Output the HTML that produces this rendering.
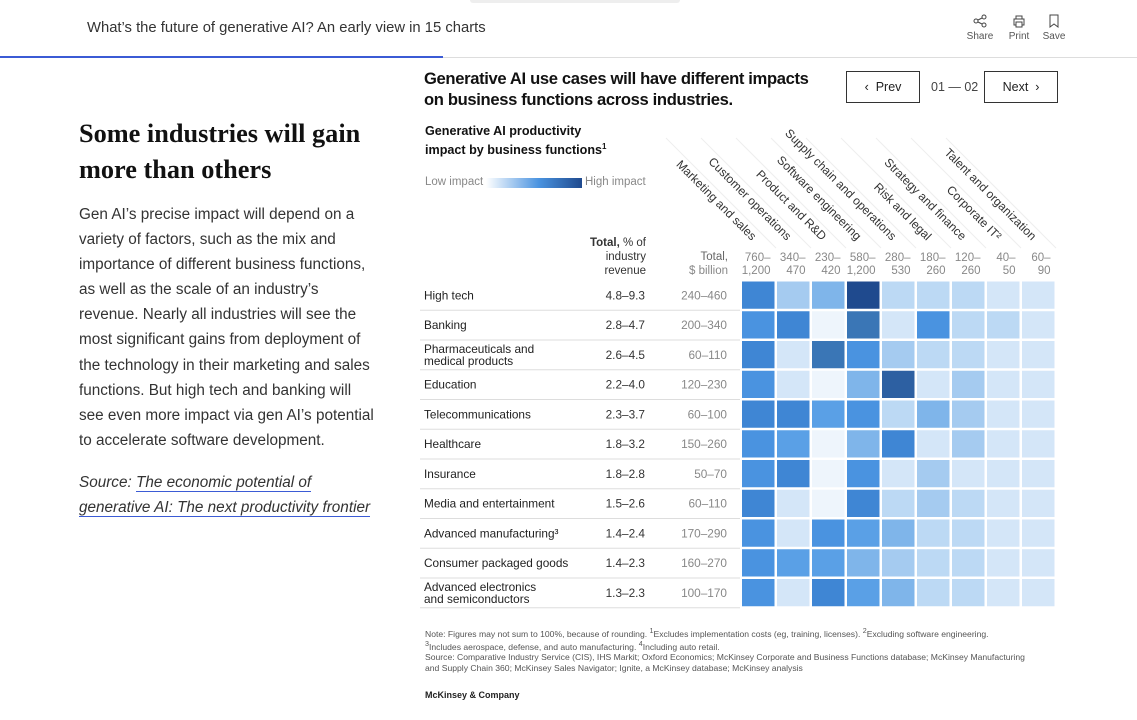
<!DOCTYPE html>
<html><head><meta charset="utf-8">
<style>
*{margin:0;padding:0;box-sizing:border-box}
body{width:1137px;height:720px;background:#fff;font-family:"Liberation Sans",sans-serif;color:#222;position:relative;overflow:hidden}
.a{position:absolute;white-space:nowrap}
.btn{position:absolute;border:1px solid #333;height:32px;font-size:12.5px;display:flex;align-items:center;justify-content:center;color:#222}
</style></head><body>
<div class="a" style="left:470px;top:0;width:210px;height:3px;background:#eee;border-radius:0 0 6px 6px"></div>
<div class="a" style="left:87px;top:20px;font-size:14.8px;color:#333">What’s the future of generative AI? An early view in 15 charts</div>
<div class="a" style="left:966px;top:14px;width:28px;text-align:center;font-size:10px;color:#555"><svg width="14" height="14" viewBox="0 0 14 14"><circle cx="11" cy="3" r="2" fill="none" stroke="#444"/><circle cx="3" cy="7" r="2" fill="none" stroke="#444"/><circle cx="11" cy="11" r="2" fill="none" stroke="#444"/><path d="M5 6L9 4M5 8L9 10" stroke="#444"/></svg><br>Share</div>
<div class="a" style="left:1006px;top:14px;width:26px;text-align:center;font-size:10px;color:#555"><svg width="14" height="14" viewBox="0 0 14 14"><rect x="2" y="5" width="10" height="6" fill="none" stroke="#444"/><rect x="4" y="2" width="6" height="3" fill="none" stroke="#444"/><rect x="4" y="8" width="6" height="5" fill="#fff" stroke="#444"/></svg><br>Print</div>
<div class="a" style="left:1041px;top:14px;width:26px;text-align:center;font-size:10px;color:#555"><svg width="14" height="14" viewBox="0 0 14 14"><path d="M3 1H11V13L7 10L3 13Z" fill="none" stroke="#444"/></svg><br>Save</div>
<div class="a" style="left:0;top:57px;width:1137px;height:1px;background:#ddd"></div>
<div class="a" style="left:0;top:56px;width:443px;height:2px;background:#3b5bd5"></div>

<div class="a" style="left:79px;top:116px;font-family:'Liberation Serif',serif;font-weight:bold;font-size:26.3px;line-height:36px;color:#111">Some industries will gain<br>more than others</div>
<div class="a" style="left:79px;top:202px;font-size:15.3px;line-height:25.1px;color:#333">Gen AI’s precise impact will depend on a<br>variety of factors, such as the mix and<br>importance of different business functions,<br>as well as the scale of an industry’s<br>revenue. Nearly all industries will see the<br>most significant gains from deployment of<br>the technology in their marketing and sales<br>functions. But high tech and banking will<br>see even more impact via gen AI’s potential<br>to accelerate software development.</div>
<div class="a" style="left:79px;top:470px;font-size:15.3px;line-height:25.1px;color:#333;font-style:italic">Source: <span style="border-bottom:1px solid #3b5bd5">The economic potential of</span><br><span style="border-bottom:1px solid #3b5bd5">generative AI: The next productivity frontier</span></div>

<div class="a" style="left:424px;top:68px;font-size:16.6px;font-weight:bold;line-height:21px;color:#111;letter-spacing:-0.35px">Generative AI use cases will have different impacts<br>on business functions across industries.</div>
<div class="btn" style="left:846px;top:71px;width:74px">‹&nbsp; Prev</div>
<div class="a" style="left:931px;top:80px;font-size:12.5px;color:#444">01 — 02</div>
<div class="btn" style="left:984px;top:71px;width:74px">Next &nbsp;›</div>

<div class="a" style="left:425px;top:123px;font-size:12.6px;font-weight:bold;line-height:16px;color:#111">Generative AI productivity<br>impact by business functions<sup style="font-size:8px">1</sup></div>
<div class="a" style="left:425px;top:176px;font-size:11.5px;color:#888">Low impact</div>
<div class="a" style="left:486px;top:178px;width:96px;height:10px;background:linear-gradient(90deg,#fff,#4a93e0 55%,#1f4a8e)"></div>
<div class="a" style="left:585px;top:176px;font-size:11.5px;color:#888">High impact</div>
<div class="a" style="left:560px;top:236px;width:86px;text-align:right;font-size:11.5px;line-height:14px;color:#333"><b>Total,</b> % of<br>industry<br>revenue</div>
<div class="a" style="left:660px;top:250px;width:68px;text-align:right;font-size:11.5px;line-height:14px;color:#888"><b style="font-weight:normal;color:#666">Total,</b><br>$ billion</div>

<svg class="a" id="chart" style="left:0;top:0" width="1137" height="720"></svg>

<div class="a" style="left:425px;top:626px;font-size:8.6px;line-height:10.3px;color:#555">Note: Figures may not sum to 100%, because of rounding. <sup>1</sup>Excludes implementation costs (eg, training, licenses). <sup>2</sup>Excluding software engineering.<br><sup>3</sup>Includes aerospace, defense, and auto manufacturing. <sup>4</sup>Including auto retail.<br>Source: Comparative Industry Service (CIS), IHS Markit; Oxford Economics; McKinsey Corporate and Business Functions database; McKinsey Manufacturing<br>and Supply Chain 360; McKinsey Sales Navigator; Ignite, a McKinsey database; McKinsey analysis</div>
<div class="a" style="left:425px;top:690px;font-size:9px;font-weight:bold;color:#222">McKinsey &amp; Company</div>

<script>
const industries=["High tech","Banking","Pharmaceuticals and|medical products","Education","Telecommunications","Healthcare","Insurance","Media and entertainment","Advanced manufacturing³","Consumer packaged goods","Advanced electronics|and semiconductors"];
const pctRevenue=["4.8–9.3","2.8–4.7","2.6–4.5","2.2–4.0","2.3–3.7","1.8–3.2","1.8–2.8","1.5–2.6","1.4–2.4","1.4–2.3","1.3–2.3"];
const billions=["240–460","200–340","60–110","120–230","60–100","150–260","50–70","60–110","170–290","160–270","100–170"];
const functions=["Marketing and sales","Customer operations","Product and R&D","Software engineering","Supply chain and operations","Risk and legal","Strategy and finance","Corporate IT²","Talent and organization"];
const fnTotalsTop=["760–","340–","230–","580–","280–","180–","120–","40–","60–"];
const fnTotalsBottom=["1,200","470","420","1,200","530","260","260","50","90"];
const impact=[
[7,3,4,9,2,2,2,1,1],
[6,7,0,8,1,6,2,2,1],
[7,1,8,6,3,2,2,1,1],
[6,1,0,4,8.5,1,3,1,1],
[7,7,5,6,2,4,3,1,1],
[6,5,0,4,7,1,3,1,1],
[6,7,0,6,1,3,1,1,1],
[7,1,0,7,2,3,2,1,1],
[6,1,6,5,4,2,2,1,1],
[6,5,5,4,3,2,2,1,1],
[6,1,7,5,4,2,2,1,1]];
const svg=document.getElementById('chart');
const NS='http://www.w3.org/2000/svg';
const x0=741,colW=35.0,y0=280.5,rowH=29.75;
const xCol=i=>x0+i*colW, yRow=j=>y0+j*rowH;
const pal=[[238,245,252],[212,230,248],[188,217,244],[165,203,240],[127,181,234],[90,160,230],[74,147,224],[63,134,212],[58,118,182],[31,74,142]];
function color(v){const i=Math.min(8,Math.floor(v)),t=v-i,a=pal[i],b=pal[i+1];return`rgb(${a.map((c,k)=>Math.round(c+(b[k]-c)*t)).join(',')})`;}
function mk(tag,attrs,txt){const e=document.createElementNS(NS,tag);for(const k in attrs)e.setAttribute(k,attrs[k]);if(txt!=null)e.textContent=txt;svg.appendChild(e);return e;}
functions.forEach((f,i)=>{
  const cx=xCol(i)+colW/2;
  const ln=mk('line',{x1:xCol(i)+colW,y1:248,x2:xCol(i)+colW-110,y2:138,stroke:'#eee','stroke-width':1});
  
  const t=mk('text',{x:cx-7,y:241,'text-anchor':'end','font-size':'12','fill':'#333',transform:`rotate(45 ${cx-7} 241)`},f);
  
  const a=mk('text',{x:cx+12,y:261,'text-anchor':'end','font-size':'11.5','fill':'#888'},fnTotalsTop[i]);
  
  const b=mk('text',{x:cx+12,y:274,'text-anchor':'end','font-size':'11.5','fill':'#888'},fnTotalsBottom[i]);
  
});
industries.forEach((name,j)=>{
  const cy=yRow(j)+rowH/2;
  const parts=name.split('|');
  parts.forEach((p,k)=>{
    const t=mk('text',{x:424,y:cy+4+(parts.length>1?(k-0.5)*12:0),'font-size':'11.8','fill':'#222'},p);
    
  });
  const p=mk('text',{x:645,y:cy+4,'text-anchor':'end','font-size':'11.8','fill':'#333'},pctRevenue[j]);
  
  const b=mk('text',{x:727,y:cy+4,'text-anchor':'end','font-size':'11.8','fill':'#888'},billions[j]);
  
  const l=mk('line',{x1:420,y1:yRow(j+1),x2:740,y2:yRow(j+1),stroke:'#ddd','stroke-width':1});
  
  impact[j].forEach((v,i)=>{
    const r=mk('rect',{x:xCol(i)+1,y:yRow(j)+1,width:colW-2.5,height:rowH-2.5,fill:color(v)});
    
  });
});
</script>
</body></html>
